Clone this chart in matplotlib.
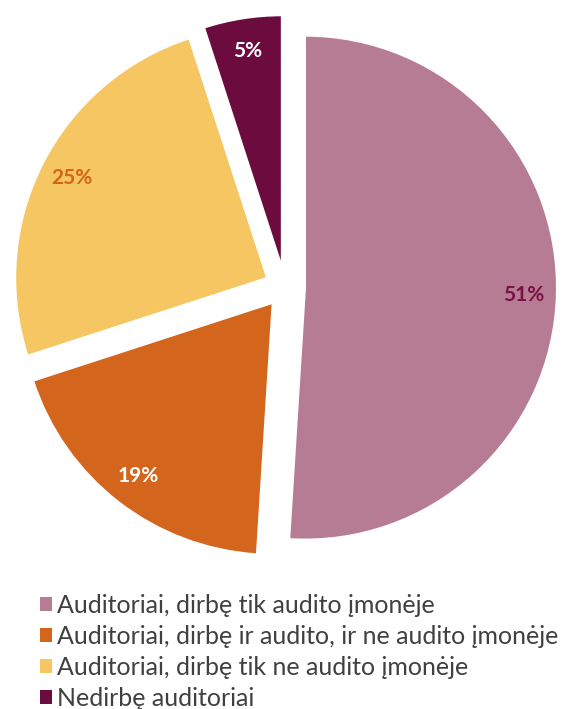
import matplotlib
matplotlib.use("Agg")
import matplotlib.pyplot as plt
from matplotlib.patches import Patch

categories = [
    "Auditoriai, dirbę tik audito įmonėje",
    "Auditoriai, dirbę ir audito, ir ne audito įmonėje",
    "Auditoriai, dirbę tik ne audito įmonėje",
    "Nedirbę auditoriai",
]
values = [51, 19, 25, 5]
colors = ["#B67C94", "#D4651D", "#F6C662", "#6C0C3E"]
label_colors = ["#7A1147", "white", "#D2641A", "white"]

plt.rcParams['font.family'] = ['Lato', 'DejaVu Sans']

fig = plt.figure(figsize=(5.66, 7.09), dpi=100)
ax = fig.add_axes([0, 0, 1, 1])

wedges, texts, autotexts = ax.pie(
    values, colors=colors, startangle=90, counterclock=False,
    center=(285, 422), radius=252, explode=[20] * 4,
    autopct=lambda p: f"{p:.0f}%", pctdistance=0.87,
    wedgeprops=dict(edgecolor="#FFFFFF", linewidth=1.5),
)
for t, c in zip(autotexts, label_colors):
    t.set_color(c)
    t.set_fontsize(15)
    t.set_fontweight("bold")

ax.set_xlim(0, 566)
ax.set_ylim(0, 709)
ax.set_aspect("equal")
ax.axis("off")

handles = [Patch(facecolor=c, edgecolor="none") for c in colors]
leg = fig.legend(handles, categories, loc="upper left", bbox_to_anchor=(0.07, 0.162),
                 frameon=False, fontsize=18, handlelength=0.5, handleheight=0.5,
                 handletextpad=0.2, labelspacing=0.32, borderaxespad=0, borderpad=0)
for t in leg.get_texts():
    t.set_color("#404040")

fig.savefig("out.png", dpi=100)
